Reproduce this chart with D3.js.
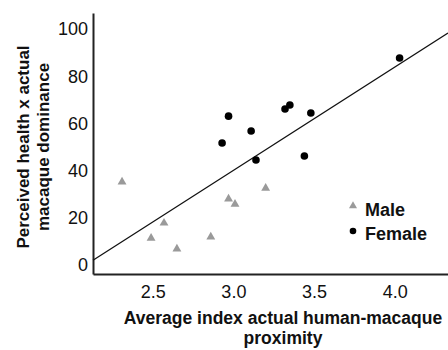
<!DOCTYPE html>
<html><head><meta charset="utf-8">
<script src="https://cdn.jsdelivr.net/npm/d3@7"></script>
<style>body{margin:0;background:#fff;} svg{display:block;font-family:"Liberation Sans",Arial,Helvetica,sans-serif;}</style>
</head><body><svg id="c" width="448" height="350"></svg>
<script>
const maleX = [2.31, 2.49, 2.57, 2.65, 2.86, 2.97, 3.01, 3.20];
const maleY = [35.2, 11.4, 17.8, 6.8, 11.9, 28.0, 25.8, 32.6];
const femaleX = [2.93, 2.97, 3.11, 3.14, 3.32, 3.35, 3.44, 3.48, 4.03];
const femaleY = [51.7, 63.1, 56.8, 44.5, 66.1, 67.8, 46.2, 64.4, 87.7];
const fitX = [2.13, 4.33];
const fitY = [2.0, 98.3];
const xTicks = [2.5, 3.0, 3.5, 4.0];
const yTicks = [0, 20, 40, 60, 80, 100];
const legendLabels = ["Male", "Female"];

const svg = d3.select("#c");
const x = d3.scaleLinear().domain([2.13, 4.33]).range([93, 448]);
const y = d3.scaleLinear().domain([-3.8, 106.8]).range([274, 13]);

// axes
const xAxis = svg.append("g").attr("transform", "translate(0,274)")
  .call(d3.axisBottom(x).tickValues(xTicks).tickFormat(d3.format(".1f")).tickSize(0).tickPadding(11));
xAxis.select(".domain").attr("stroke", "#222").attr("stroke-width", 2);
xAxis.selectAll("text").attr("font-size", 18).attr("fill", "#111").attr("font-family", "inherit");

const yAxis = svg.append("g").attr("transform", "translate(93,0)")
  .call(d3.axisLeft(y).tickValues(yTicks).tickSize(0).tickPadding(5));
yAxis.select(".domain").attr("stroke", "#222").attr("stroke-width", 2);
yAxis.selectAll("text").attr("font-size", 18).attr("fill", "#111").attr("font-family", "inherit");

// fit line
svg.append("line")
  .attr("x1", x(fitX[0])).attr("y1", y(fitY[0]))
  .attr("x2", x(fitX[1])).attr("y2", y(fitY[1]))
  .attr("stroke", "#111").attr("stroke-width", 1.3);

const tri = d3.symbol().type(d3.symbolTriangle).size(34);
const males = maleX.map((v, i) => [v, maleY[i]]);
const females = femaleX.map((v, i) => [v, femaleY[i]]);

svg.append("g").selectAll("path").data(males).join("path")
  .attr("d", tri).attr("transform", d => `translate(${x(d[0])},${y(d[1])})`)
  .attr("fill", "#9a9a9a");
svg.append("g").selectAll("circle").data(females).join("circle")
  .attr("cx", d => x(d[0])).attr("cy", d => y(d[1])).attr("r", 3.8)
  .attr("fill", "#000");

// legend
const lg = svg.append("g");
lg.append("path").attr("d", d3.symbol().type(d3.symbolTriangle).size(28)).attr("transform", "translate(353,206)").attr("fill", "#9a9a9a");
lg.append("circle").attr("cx", 353).attr("cy", 231).attr("r", 3.3).attr("fill", "#000");
lg.append("text").attr("x", 365).attr("y", 216).attr("font-size", 18).attr("font-weight", "bold").attr("fill", "#111").text(legendLabels[0]);
lg.append("text").attr("x", 365).attr("y", 240).attr("font-size", 18).attr("font-weight", "bold").attr("fill", "#111").text(legendLabels[1]);

// axis titles
const xt = svg.append("text").attr("text-anchor", "middle").attr("font-size", 17.5).attr("font-weight", "bold").attr("fill", "#111");
xt.append("tspan").attr("x", 283).attr("y", 324).text("Average index actual human-macaque");
xt.append("tspan").attr("x", 283).attr("y", 344).text("proximity");

const yt = svg.append("text").attr("text-anchor", "middle").attr("font-size", 17).attr("font-weight", "bold").attr("fill", "#111")
  .attr("transform", "translate(0,147) rotate(-90)");
yt.append("tspan").attr("x", 0).attr("y", 29).text("Perceived health x actual");
yt.append("tspan").attr("x", 0).attr("y", 49).text("macaque dominance");
</script></body></html>
